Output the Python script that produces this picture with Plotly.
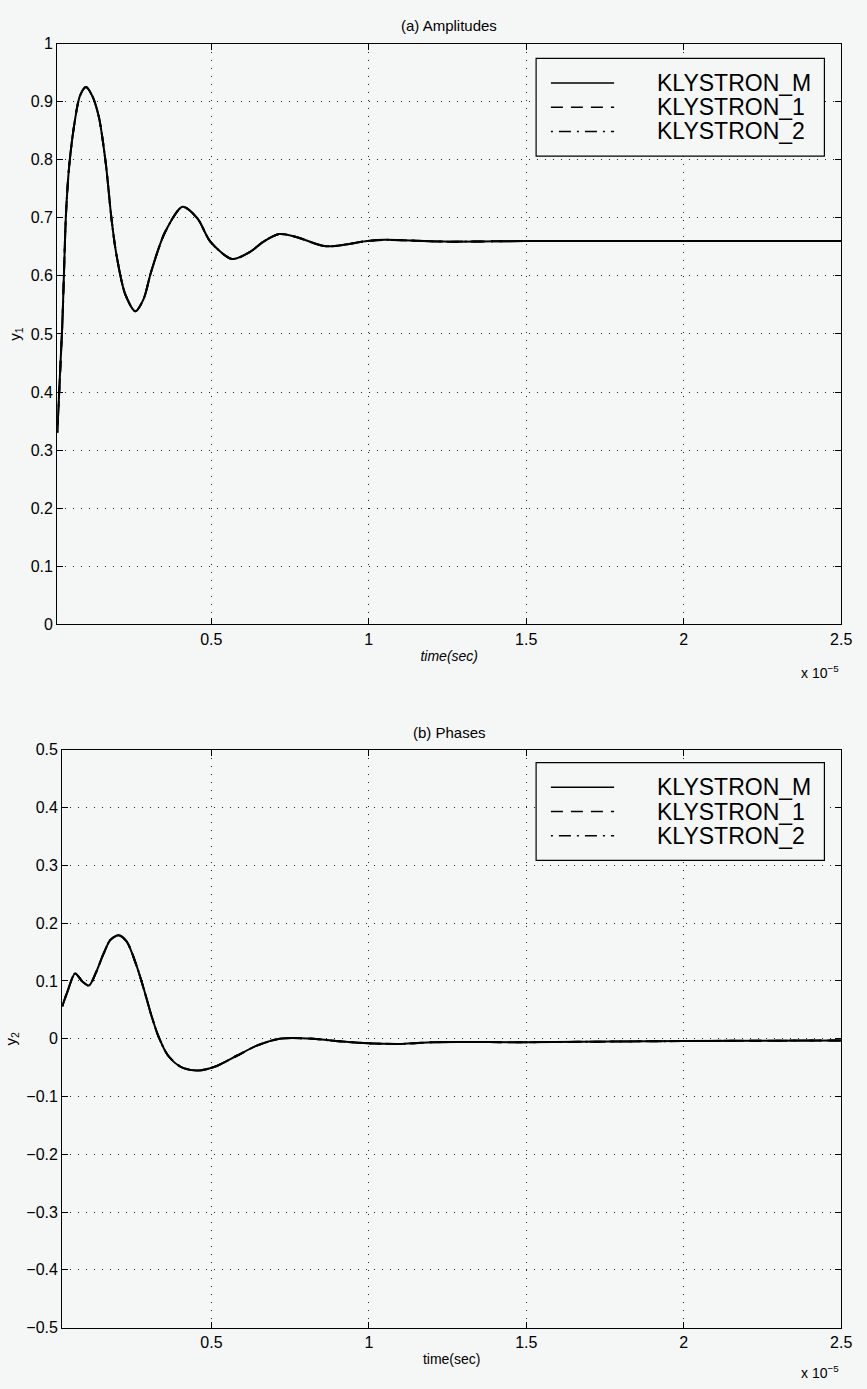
import plotly.graph_objects as go

W, H = 867, 1389
BG = "#f5f7f6"
FONT = "Liberation Sans, Arial, Helvetica, sans-serif"

# ---------------- data (time in units of 1e-5 s) ----------------
t_amp = [0.011, 0.027, 0.039, 0.049, 0.064, 0.083, 0.102, 0.122, 0.143, 0.165,
         0.183, 0.199, 0.227, 0.259, 0.285, 0.309, 0.353, 0.409, 0.456, 0.497,
         0.566, 0.622, 0.666, 0.716, 0.770, 0.864, 0.995, 1.05, 1.24, 1.50,
         1.75, 2.00, 2.25, 2.50]
amp_klystron_m = [0.33, 0.517, 0.71, 0.79, 0.857, 0.91, 0.925, 0.91, 0.874, 0.794,
                  0.699, 0.636, 0.568, 0.539, 0.56, 0.607, 0.675, 0.719, 0.699, 0.659,
                  0.629, 0.641, 0.659, 0.672, 0.667, 0.651, 0.660, 0.662, 0.659, 0.660,
                  0.660, 0.660, 0.660, 0.660]
amp_klystron_1 = list(amp_klystron_m)
amp_klystron_2 = list(amp_klystron_m)

t_phase = [0.026, 0.043, 0.067, 0.090, 0.111, 0.132, 0.158, 0.179, 0.205, 0.231,
           0.263, 0.289, 0.310, 0.331, 0.362, 0.404, 0.456, 0.508, 0.582, 0.644,
           0.717, 0.822, 0.895, 0.999, 1.104, 1.208, 1.50, 2.00, 2.50]
phase_klystron_m = [0.056, 0.082, 0.113, 0.099, 0.092, 0.113, 0.148, 0.171, 0.179, 0.168,
                    0.125, 0.079, 0.039, 0.005, -0.029, -0.049, -0.055, -0.049, -0.029, -0.012,
                    0.000, 0.000, -0.004, -0.008, -0.009, -0.006, -0.006, -0.004, -0.003]
phase_klystron_1 = list(phase_klystron_m)
phase_klystron_2 = list(phase_klystron_m)

series_names = ["KLYSTRON_M", "KLYSTRON_1", "KLYSTRON_2"]
x_tickvals = [0.5, 1.0, 1.5, 2.0, 2.5]
x_ticktext = ["0.5", "1", "1.5", "2", "2.5"]
y1_tickvals = [0, 0.1, 0.2, 0.3, 0.4, 0.5, 0.6, 0.7, 0.8, 0.9, 1.0]
y1_ticktext = ["0", "0.1", "0.2", "0.3", "0.4", "0.5", "0.6", "0.7", "0.8", "0.9", "1"]
y2_tickvals = [-0.5, -0.4, -0.3, -0.2, -0.1, 0, 0.1, 0.2, 0.3, 0.4, 0.5]
y2_ticktext = ["\u22120.5", "\u22120.4", "\u22120.3", "\u22120.2", "\u22120.1", "0",
               "0.1", "0.2", "0.3", "0.4", "0.5"]

dash_px = ["solid", "12px,8px", "2px,6px,12px,6px"]


def px_x(p):
    return p / W


def px_y(p):
    return 1 - p / H


fig = go.Figure()

for name, ys, d in zip(series_names, [amp_klystron_m, amp_klystron_1, amp_klystron_2], dash_px):
    fig.add_trace(go.Scatter(x=t_amp, y=ys, name=name, mode="lines",
                             line=dict(color="black", width=2, dash=d, shape="spline", smoothing=0.8),
                             xaxis="x", yaxis="y", showlegend=False))
for name, ys, d in zip(series_names, [phase_klystron_m, phase_klystron_1, phase_klystron_2], dash_px):
    fig.add_trace(go.Scatter(x=t_phase, y=ys, name=name, mode="lines",
                             line=dict(color="black", width=2, dash=d, shape="spline", smoothing=0.8),
                             xaxis="x2", yaxis="y2", showlegend=False))

axis_common = dict(showline=True, linecolor="black", linewidth=1.2, mirror="ticks",
                   ticks="inside", ticklen=6, tickwidth=1.2, tickcolor="black",
                   showgrid=True, gridcolor="#222222", gridwidth=1, griddash="1px,7px",
                   zeroline=False,
                   tickfont=dict(family=FONT, size=16, color="black"))

fig.update_layout(
    width=W, height=H,
    margin=dict(l=0, r=0, t=0, b=0),
    paper_bgcolor=BG, plot_bgcolor=BG,
    showlegend=False,
    xaxis=dict(axis_common, domain=[px_x(58), px_x(852)], range=[0.011, 2.5], anchor="y",
               tickvals=x_tickvals, ticktext=x_ticktext,
               title=dict(text="<i>time(sec)</i>", font=dict(family=FONT, size=14, color="black"), standoff=4)),
    yaxis=dict(axis_common, domain=[px_y(624), px_y(36)], range=[0, 1], anchor="x",
               tickvals=y1_tickvals, ticktext=y1_ticktext,
               title=dict(text="y<sub>1</sub>", font=dict(family=FONT, size=15, color="black"), standoff=6)),
    xaxis2=dict(axis_common, domain=[px_x(63), px_x(852)], range=[0.026, 2.5], anchor="y2",
                tickvals=x_tickvals, ticktext=x_ticktext,
                title=dict(text="time(sec)", font=dict(family=FONT, size=14, color="black"), standoff=4)),
    yaxis2=dict(axis_common, domain=[px_y(1336), px_y(751)], range=[-0.5, 0.5], anchor="x2",
                tickvals=y2_tickvals, ticktext=y2_ticktext,
                title=dict(text="y<sub>2</sub>", font=dict(family=FONT, size=15, color="black"), standoff=6)),
)

annotations = []
shapes = []

for txt, ycen in [("(a) Amplitudes", 18), ("(b) Phases", 733)]:
    annotations.append(dict(text=txt, x=px_x(455), y=px_y(ycen), xref="paper", yref="paper",
                            xanchor="center", yanchor="middle", showarrow=False,
                            font=dict(family=FONT, size=15, color="black")))
for ycen in [672, 1381]:
    annotations.append(dict(text="x 10<sup>\u22125</sup>", x=px_x(852), y=px_y(ycen), xref="paper", yref="paper",
                            xanchor="right", yanchor="middle", showarrow=False,
                            font=dict(family=FONT, size=14, color="black")))

for top in [51, 764]:
    shapes.append(dict(type="rect", xref="paper", yref="paper",
                       x0=px_x(543), x1=px_x(835), y0=px_y(top + 99), y1=px_y(top),
                       line=dict(color="black", width=1.2), fillcolor=BG, layer="above"))
    for i, (name, d) in enumerate(zip(series_names, dash_px)):
        yc = top + 25 + 24.5 * i
        shapes.append(dict(type="line", xref="paper", yref="paper",
                           x0=px_x(558), x1=px_x(622), y0=px_y(yc), y1=px_y(yc),
                           line=dict(color="black", width=1.5, dash=d), layer="above"))
        annotations.append(dict(text=name, x=px_x(663), y=px_y(yc), xref="paper", yref="paper",
                                xanchor="left", yanchor="middle", showarrow=False,
                                font=dict(family=FONT, size=23, color="black")))

fig.update_layout(annotations=annotations, shapes=shapes)

fig.write_html("out.html")
